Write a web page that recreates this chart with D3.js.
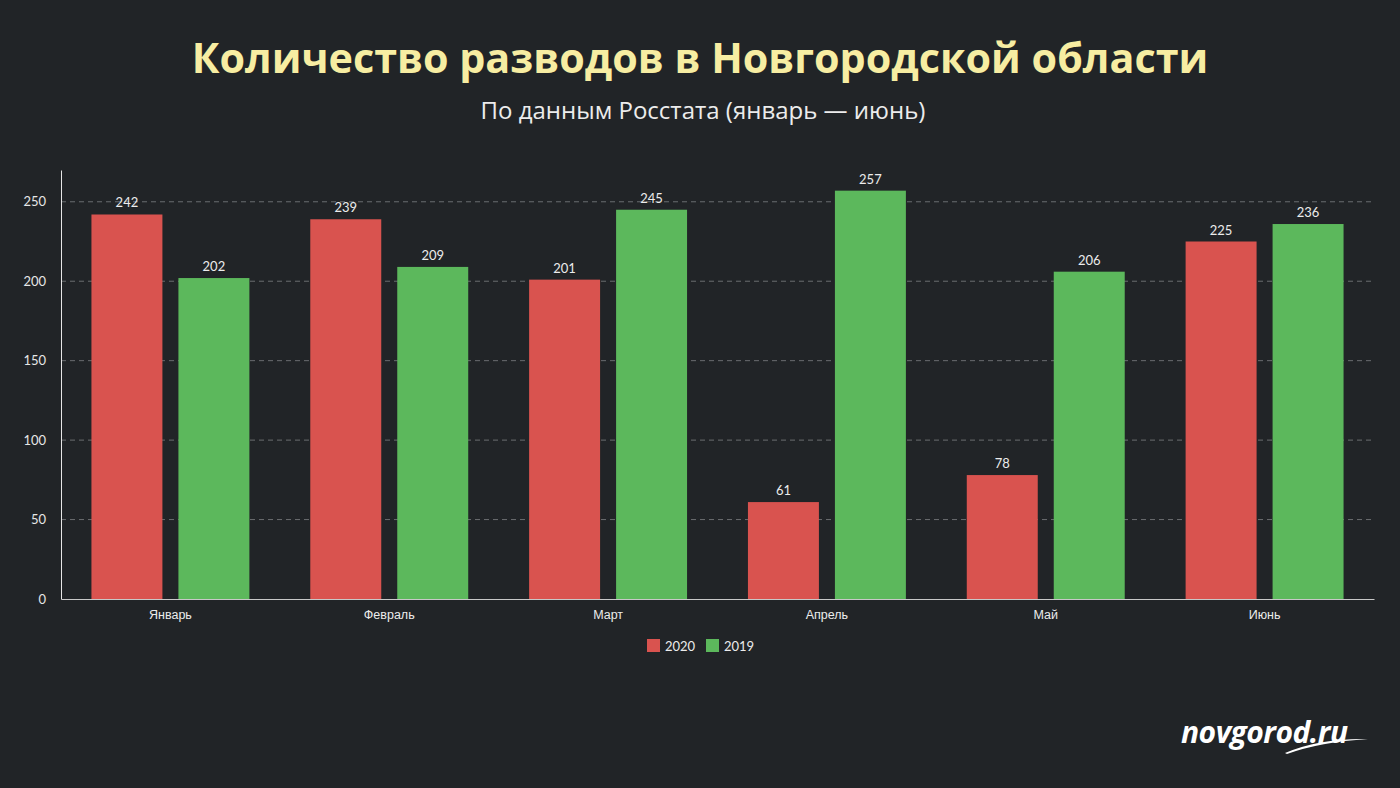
<!DOCTYPE html>
<html><head><meta charset="utf-8">
<script src="https://cdn.jsdelivr.net/npm/d3@7"></script>
<style>
html,body{margin:0;padding:0;background:#212427;}
svg{display:block;}
</style></head>
<body>
<svg id="chart" width="1400" height="788"></svg>
<script>
const months = ["Январь","Февраль","Март","Апрель","Май","Июнь"];
const seriesNames = ["2020","2019"];
const values2020 = [242,239,201,61,78,225];
const values2019 = [202,209,245,257,206,236];
const yTicks = [0,50,100,150,200,250];
const seriesColors = ["#d9534f","#5cb85c"];

const svg = d3.select("#chart");
const W = 1400, H = 788;
svg.append("rect").attr("width",W).attr("height",H).attr("fill","#212427");

const m = {left:61, right:1374, top:170, bottom:599};

svg.append("text").attr("x",700).attr("y",73).attr("text-anchor","middle")
  .attr("font-family","Open Sans").attr("font-weight","bold").attr("font-size",41.3)
  .attr("fill","#f7eda2").text("Количество разводов в Новгородской области");
svg.append("text").attr("x",703).attr("y",119).attr("text-anchor","middle")
  .attr("font-family","Open Sans").attr("font-size",24)
  .attr("fill","#ececec").text("По данным Росстата (январь — июнь)");

const x0 = d3.scaleBand().domain(months).range([m.left,m.right]).padding(0);
const x1 = d3.scaleBand().domain(seriesNames).range([0,x0.bandwidth()]).paddingInner(0.184).paddingOuter(0.35);
const y = d3.scaleLinear().domain([0,270]).range([m.bottom,m.top]);

// grid
const grid = svg.append("g");
yTicks.filter(t=>t>0).forEach(t=>{
  grid.append("line").attr("x1",m.left).attr("x2",m.right).attr("y1",y(t)).attr("y2",y(t))
    .attr("stroke","#6a6d70").attr("stroke-width",1).attr("stroke-dasharray","5,4");
});

// y axis
const yAxis = svg.append("g").attr("transform",`translate(${m.left},0)`)
  .call(d3.axisLeft(y).tickValues(yTicks).tickSize(0).tickPadding(15));
yAxis.select(".domain").attr("stroke","#e6e6e6");
yAxis.selectAll("text").attr("font-family","Lato").attr("font-size",13).attr("fill","#e6e6e6");

// bars
const data = months.map((mo,i)=>({month:mo, vals:[{s:"2020",v:values2020[i]},{s:"2019",v:values2019[i]}]}));
const groups = svg.append("g").selectAll("g").data(data).join("g")
  .attr("transform",d=>`translate(${x0(d.month)},0)`);
groups.selectAll("rect").data(d=>d.vals).join("rect")
  .attr("x",d=>x1(d.s)).attr("width",x1.bandwidth())
  .attr("y",d=>y(d.v)).attr("height",d=>y(0)-y(d.v))
  .attr("fill",(d,i)=>seriesColors[i]);
groups.selectAll("text.val").data(d=>d.vals).join("text").attr("class","val")
  .attr("x",d=>x1(d.s)+x1.bandwidth()/2).attr("y",d=>y(d.v)-7)
  .attr("text-anchor","middle").attr("font-family","Lato").attr("font-size",13)
  .attr("fill","#ececec").text(d=>d.v);

// x axis
const xAxis = svg.append("g").attr("transform",`translate(0,${m.bottom})`)
  .call(d3.axisBottom(x0).tickSize(0).tickPadding(11));
xAxis.select(".domain").attr("stroke","#c8c8c8");
xAxis.selectAll("text").attr("font-family","Liberation Sans").attr("font-size",12.5).attr("fill","#ececec");

// legend
const leg = svg.append("g");
const legX = [647,706];
seriesNames.forEach((s,i)=>{
  leg.append("rect").attr("x",legX[i]).attr("y",639).attr("width",13).attr("height",13).attr("fill",seriesColors[i]);
  leg.append("text").attr("x",legX[i]+18).attr("y",650.5).attr("font-family","Lato").attr("font-size",13)
    .attr("fill","#ececec").text(s);
});

// logo
svg.append("text").attr("x",1181).attr("y",743).attr("font-family","Open Sans").attr("font-weight","bold")
  .attr("font-style","italic").attr("font-size",30).attr("fill","#ffffff").attr("letter-spacing","-0.5")
  .text("novgorod.ru");
svg.append("path").attr("d","M1285,753 Q1320,738 1368,739 Q1320,742 1287,754 Z").attr("fill","#ffffff");
</script>
</body></html>
